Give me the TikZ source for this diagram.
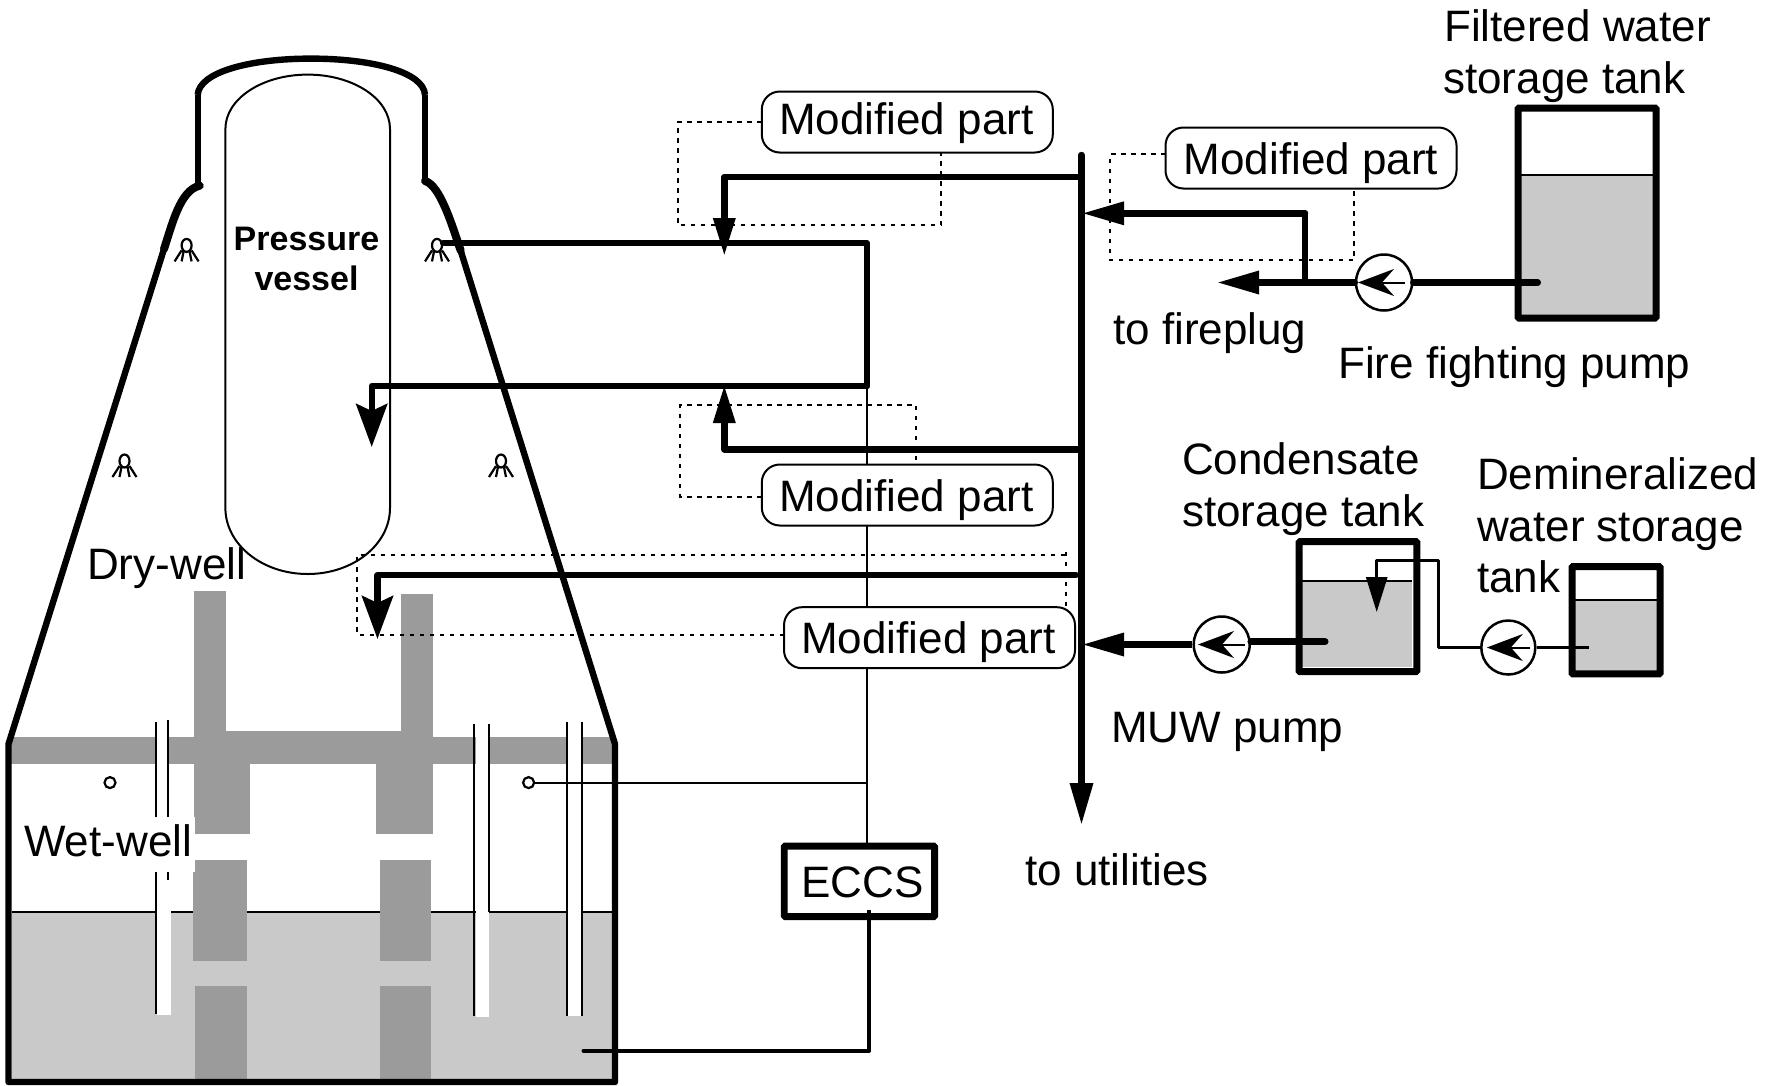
\documentclass[tikz,border=0pt]{standalone}
\usepackage{fontspec}
\setmainfont{Liberation Sans}
\usetikzlibrary{arrows.meta,shapes.geometric}
\definecolor{wallgray}{HTML}{9B9B9B}
\definecolor{watergray}{HTML}{C9C9C9}
\tikzset{
  label44/.style={anchor=base west,inner sep=0pt,font=\fontsize{44}{50}\selectfont},
  wall/.style={line width=6.4pt,line join=round},
  flare/.style={line width=8pt,line cap=round},
  thin pipe/.style={line width=2pt},
  mid pipe/.style={line width=3pt,line join=round},
  thick pipe/.style={line width=6.4pt,line join=round,line cap=round},
  bighead/.style={-{Stealth[length=43pt,width=31pt,inset=7pt]}},
  tri head/.style={-{Triangle[length=42pt,width=22pt]}},
  tri small/.style={-{Triangle[length=38pt,width=21pt]}},
  dots/.style={line width=2pt,dash pattern=on 4.5pt off 5.5pt},
  modbox/.style={draw,fill=white,rounded corners=18pt,line width=2pt,minimum width=291pt,minimum height=61pt,inner sep=0pt,text height=41pt,text depth=9pt,font=\fontsize{44}{50}\selectfont},
  tankbox/.style={draw,line width=7pt,inner sep=0pt,rounded corners=1pt},
  pumpnode/.style={draw,circle,fill=white,line width=2.5pt,minimum size=56pt,inner sep=0pt},
  pumparrow/.style={line width=2pt,-{Stealth[length=36pt,width=27pt,inset=12pt]}},
  spraynode/.style={draw,ellipse,line width=2.2pt,minimum width=10pt,minimum height=13pt,inner sep=0pt},
  legs/.style={line width=2.2pt},
  smallring/.style={draw,circle,fill=white,line width=2.2pt,minimum size=11pt,inner sep=0pt},
  tubeline/.style={line width=2pt},
  ventgray/.style={fill=wallgray}
}
\newcommand{\spraynozzle}[3]{%
  \node[spraynode] (#1) at (#2,#3) {};
  \begin{scope}[shift={(#2,#3)}]
    \draw[legs] (-5,5) -- (-12,16) (-3,6) -- (-5,16) (3,6) -- (5,16) (5,5) -- (12,16);
  \end{scope}}
\begin{document}
\begin{tikzpicture}[x=1pt,y=-1pt]
\useasboundingbox (0,0) rectangle (1776,1085);
\fill[white] (0,0) rectangle (1776,1085);
% water of wet-well
\fill[watergray] (12,911.5) rectangle (612,1079);
\draw[line width=2pt] (12,911.5) -- (612,911.5);
% diaphragm floor and vents
\fill[ventgray] (10,737.4) -- (612,737.4) -- (612,764) -- (10,764) -- cycle;
\fill[ventgray] (225.7,731) rectangle (400.8,740);
\fill[ventgray] (193.9,591) rectangle (225.7,764);
\fill[ventgray] (193.9,763) rectangle (249.8,834);
\fill[ventgray] (400.8,593.5) rectangle (432.7,764);
\fill[ventgray] (376.3,763) rectangle (432.7,834);
\fill[ventgray] (192.7,860.3) rectangle (247,960.7);
\fill[ventgray] (379.6,860.3) rectangle (431.4,960.7);
\fill[ventgray] (195,985.8) rectangle (247,1079);
\fill[ventgray] (379.6,985.8) rectangle (431.4,1079);
% downcomer tubes
\fill[white] (157,722) rectangle (168,915);
\fill[white] (157,905) rectangle (170.6,1014.6);
\fill[white] (475.5,724) rectangle (488.6,1017);
\fill[white] (568,722.4) rectangle (581,1016);
\draw[tubeline] (155.5,722) -- (155.5,1013.6);
\draw[tubeline] (168,719.7) -- (168,879.7);
\draw[tubeline] (473.5,724) -- (473.5,1016);
\draw[tubeline] (488.6,724) -- (488.6,911.5);
\draw[tubeline] (567,722.4) -- (567,1016);
\draw[tubeline] (581.6,722.4) -- (581.6,1016);
% containment
\draw[wall] (197.7,95) -- (197.7,183);
\draw[wall] (425,95) -- (425,181);
\draw[wall] (197.7,95) .. controls (199,72) and (250,58.6) .. (311,58.6) .. controls (372,58.6) and (424,72) .. (425,95);
\draw[flare] (199.7,185.7) .. controls (180,190) and (172,225) .. (164,249);
\draw[flare] (425,181) .. controls (440,185) and (452,225) .. (460.7,250.7);
\draw[wall] (164,249) -- (8.5,744) -- (8.5,1082) -- (615,1082) -- (615,744) -- (460.7,250.7);
% pressure vessel
\draw[line width=2pt] (225.4,508) -- (225.4,129) .. controls (225.4,98.6) and (262.4,74.6) .. (307.7,74.6) .. controls (353,74.6) and (390,98.6) .. (390,129) -- (390,508) .. controls (390,544.5) and (353.2,574) .. (307.7,574) .. controls (262.2,574) and (225.4,544.5) .. (225.4,508) -- cycle;
\node[anchor=base,inner sep=0pt,font=\fontsize{34}{40}\selectfont\bfseries] (pvlabel) at (306.5,250) {Pressure};
\node[anchor=base,inner sep=0pt,font=\fontsize{34}{40}\selectfont\bfseries] (pvlabelb) at (306.5,290) {vessel};
% spray nozzles
\spraynozzle{sprayA}{186.6}{245.4}
\spraynozzle{sprayB}{437}{245.4}
\spraynozzle{sprayC}{124.5}{461}
\spraynozzle{sprayD}{501}{461}
\node[smallring] (ringL) at (110,782.6) {};
\node[smallring] (ringR) at (528.6,782.6) {};
\node[label44] (drywell) at (87,579.5) {Dry-well};
\node[anchor=base west,fill=white,inner xsep=3pt,inner ysep=0pt,text height=40pt,text depth=15pt,font=\fontsize{44}{50}\selectfont] (wetwell) at (21,856.6) {Wet-well};
% coordinates
\coordinate (hTop) at (1081.5,155);
\coordinate (hBot) at (1081.5,825);
\coordinate (sprayCorner) at (866.8,243);
\coordinate (returnCorner) at (866.8,386);
\coordinate (pvTip) at (371.7,447);
\coordinate (pvBend) at (371.7,386);
\coordinate (b1Start) at (1081.5,176.7);
\coordinate (b1Bend) at (724.3,176.7);
\coordinate (b1Tip) at (724.3,256);
\coordinate (b2Start) at (1081.5,449.3);
\coordinate (b2Bend) at (724.3,449.3);
\coordinate (b2Tip) at (724.3,385);
\coordinate (b3Start) at (1076,575);
\coordinate (b3Bend) at (377.5,575);
\coordinate (b3Tip) at (377.5,639);
\coordinate (eccsLow) at (869,1050.7);
\coordinate (sumpEnd) at (583.5,1050.7);
\coordinate (ringLine) at (867,782.6);
\coordinate (modAw) at (761.8,122);
\coordinate (modAs) at (941,153);
\coordinate (modBw) at (1165.5,154);
\coordinate (modBs) at (1354,188);
\coordinate (modCw) at (761.8,496.7);
\coordinate (modCn) at (916.4,465);
\coordinate (modDw) at (784,634.5);
\coordinate (modDn) at (1066.4,610);
% dotted outlines
\draw[dots] (modAw) -- (677.9,122) -- (677.9,225.3) -- (941,225.3) -- (modAs);
\draw[dots] (modBw) -- (1110,154) -- (1110,260) -- (1354,260) -- (modBs);
\draw[dots] (modCw) -- (680.4,496.7) -- (680.4,405) -- (916.4,405) -- (modCn);
\draw[dots] (modDw) -- (357,634.5) -- (357,555) -- (1066.4,555);
\draw[dots] (1066.4,551.7) -- (modDn);
% ECCS and its lines
\node[tankbox,line width=6.9pt,minimum width=150.3pt,minimum height=70.5pt,text height=32pt,text depth=0pt,font=\fontsize{44}{50}\selectfont] (eccs) at (859.4,881.3) {\kern6pt ECCS};
\draw[thin pipe] (returnCorner) -- (866.8,848);
\draw[thin pipe] (ringR) -- (ringLine);
\draw[line width=3.5pt] (869,910) -- (eccsLow);
\draw[line width=4pt,line cap=round,line join=round] (eccsLow) -- (sumpEnd);
% main header
\draw[thick pipe,tri head] (hTop) -- (hBot);
% spray and return pipes
\draw[thick pipe] (sprayB.east |- sprayCorner) -- (sprayCorner) -- (returnCorner);
\draw[thick pipe,bighead] (returnCorner) -- (pvBend) -- (pvTip);
\draw[thick pipe,tri small] (b1Start) -- (b1Bend) -- (b1Tip);
\draw[thick pipe,tri small] (b2Start) -- (b2Bend) -- (b2Tip);
\draw[thick pipe,bighead] (b3Start) -- (b3Bend) -- (b3Tip);
% label boxes over the pipes
\node[modbox,text height=33pt] (modA) at (907.3,122) {\kern-2pt Modified part};
\node[modbox] (modB) at (1311,158) {Modified part};
\node[modbox] (modC) at (907.3,495) {\kern-2pt Modified part};
\node[modbox] (modD) at (929.5,637.7) {\kern-2pt Modified part};
% filtered water tank
\fill[watergray] (1521,175) rectangle (1653,315);
\draw[line width=2pt] (1521,175) -- (1653,175);
\node[tankbox,minimum width=138pt,minimum height=210pt] (filtered) at (1587,213) {};
% condensate tank
\fill[watergray] (1302,581) rectangle (1411.7,667);
\draw[line width=2pt] (1302,581) -- (1411.7,581);
\node[tankbox,minimum width=117.7pt,minimum height=130pt] (condensate) at (1357.9,606.7) {};
% demineralized tank
\fill[watergray] (1575,600) rectangle (1657,671);
\draw[line width=2pt] (1575,600) -- (1657,600);
\node[tankbox,minimum width=88pt,minimum height=107.3pt] (demin) at (1616,620.3) {};
% pumps
\node[pumpnode] (fp) at (1384,282.5) {};
\node[pumpnode] (mp) at (1221.7,644.5) {};
\node[pumpnode,minimum size=54pt] (dp) at (1508.3,647.5) {};
\draw[pumparrow] ([xshift=20.6pt]fp.center) -- ([xshift=-26pt]fp.center);
\draw[pumparrow] ([xshift=23pt]mp.center) -- ([xshift=-23.7pt]mp.center);
\draw[pumparrow] ([xshift=22pt]dp.center) -- ([xshift=-21.5pt]dp.center);
% fire fighting line
\coordinate (ffOut) at (1537.8,282.5);
\coordinate (ffBranch) at (1305,282.5);
\coordinate (ffCorner) at (1305,213.3);
\coordinate (ffHeader) at (1082,213.3);
\coordinate (ffPlug) at (1217,282.5);
\draw[thick pipe] (fp.east) -- (ffOut);
\draw[thick pipe,tri head] (fp.west) -- (ffPlug);
\draw[thick pipe] (ffBranch) -- (ffCorner);
\draw[thick pipe,tri head] (ffCorner) -- (ffHeader);
% MUW line
\coordinate (muwIn) at (1325,641.7);
\coordinate (muwHeader) at (1082,644.5);
\draw[line width=7pt,line cap=round] (mp.east |- muwIn) -- (muwIn);
\draw[thick pipe,line cap=butt,tri head] (mp.west) -- (muwHeader);
% demineralized line
\coordinate (dIn) at (1589,647.5);
\coordinate (dBendA) at (1438.3,647.5);
\coordinate (dBendB) at (1438.3,560);
\coordinate (dBendC) at (1376.7,560);
\coordinate (dTip) at (1376.7,612);
\draw[mid pipe] (dp.east) -- (dIn);
\draw[mid pipe,-{Triangle[length=35pt,width=21pt]}] (dp.west) -- (dBendA) -- (dBendB) -- (dBendC) -- (dTip);
% labels
\node[label44] (t1) at (1444,41) {Filtered water};
\node[label44] (t2) at (1443,93) {storage tank};
\node[label44] (t3) at (1113,344) {to fireplug};
\node[label44] (t4) at (1338,378) {Fire fighting pump};
\node[label44] (t5) at (1182,474) {Condensate};
\node[label44] (t6) at (1182,526) {storage tank};
\node[label44] (t7) at (1477,489) {Demineralized};
\node[label44] (t8) at (1477,541) {water storage};
\node[label44] (t9) at (1477,592) {tank};
\node[label44] (t10) at (1111,742) {MUW pump};
\node[label44] (t11) at (1025,885) {to utilities};
\end{tikzpicture}
\end{document}
